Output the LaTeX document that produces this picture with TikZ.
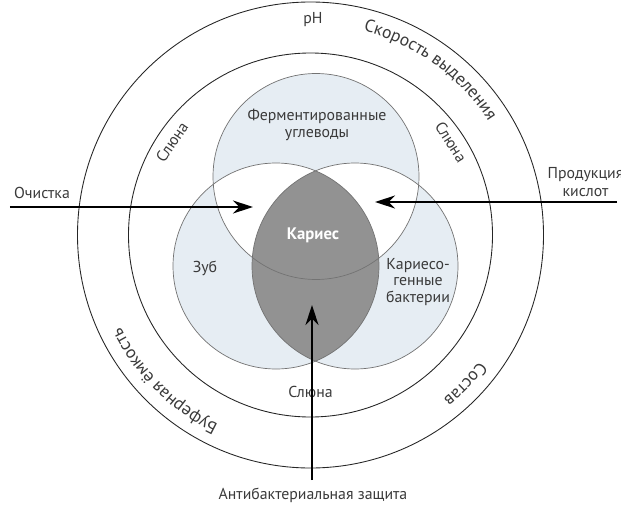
\documentclass[tikz,border=0pt]{standalone}
\usepackage{fontspec}
\setmainfont{PT Sans}
\usetikzlibrary{arrows.meta,decorations.text}
\definecolor{vennfill}{HTML}{E6EDF3}
\definecolor{cariesfill}{HTML}{929292}
\definecolor{txt}{HTML}{3A3A3A}

\begin{document}
\begin{tikzpicture}[>={Stealth[length=4mm,width=2.6mm]},
  font=\fontsize{9}{9.5}\selectfont,
  lbl/.style={text=txt, align=center},
  ringtext/.style={decorate, decoration={text along path, text align=center,
    text={#1}, text color=txt}}]
\useasboundingbox (-6.21,-5.4) rectangle (6.21,4.7);
\coordinate (mid) at (0,0);
\coordinate (carb) at (0.11,1.17);
\coordinate (tooth) at (-0.69,-0.62);
\coordinate (bact) at (0.89,-0.62);
% Venn fills
\fill [vennfill] (carb) circle (2.06);
\fill [vennfill] (tooth) circle (2.06);
\fill [vennfill] (bact) circle (2.06);
\begin{scope}
\clip (carb) circle (2.06);
\fill [white] (tooth) circle (2.06);
\fill [white] (bact) circle (2.06);
\end{scope}
\begin{scope}
\clip (tooth) circle (2.06);
\fill [cariesfill] (bact) circle (2.06);
\end{scope}
\draw [black!55, line width=0.4pt] (carb) circle (2.06);
\draw [black!55, line width=0.4pt] (tooth) circle (2.06);
\draw [black!55, line width=0.4pt] (bact) circle (2.06);
% rings
\draw [black!85, line width=0.5pt] (mid) circle (4.66);
\draw [black!85, line width=0.5pt] (mid) circle (3.64);
% ring labels
\node [lbl] (ph) at (0.05,4.3) {pH};
\path [ringtext={Скорость выделения}] (80:4.22) arc [start angle=80, end angle=28, radius=4.22];
\path [ringtext={Буферная ёмкость}] (254:4.22) arc [start angle=254, end angle=196, radius=4.22];
\path [ringtext={Состав}] (333:4.22) arc [start angle=333, end angle=299, radius=4.22];
\node [lbl, rotate=56] (salivaL) at (-2.77,1.86) {Слюна};
\node [lbl, rotate=-57] (salivaR) at (2.81,1.86) {Слюна};
\node [lbl] (salivaB) at (0,-3.14) {Слюна};
% Venn labels
\node [lbl] (carbs) at (0.13,2.2) {Ферментированные\\углеводы};
\node [text=white, font=\fontsize{9.5}{11}\selectfont\bfseries] (caries) at (0.05,0) {Кариес};
\node [lbl, font=\fontsize{9}{9.5}\selectfont] (bacteria) at (2.15,-0.94) {Кариесо-\\генные\\бактерии};
\node [lbl] (zub) at (-2.11,-0.66) {Зуб};
% arrows
\node [lbl] (clean) at (-5.37,0.84) {Очистка};
\coordinate (cleanA) at (-6.01,0.56);
\coordinate (cleanB) at (-1.15,0.56);
\draw [thick, ->] (cleanA) -- (cleanB);
\node [lbl, font=\fontsize{9}{10.5}\selectfont] (acid) at (5.5,1.06) {Продукция\\кислот};
\coordinate (acidA) at (6.13,0.66);
\coordinate (acidB) at (1.29,0.66);
\draw [thick, ->] (acidA) -- (acidB);
\node [lbl] (antibac) at (0.05,-5.2) {Антибактериальная защита};
\coordinate (antiA) at (0.03,-4.9);
\coordinate (antiB) at (0.03,-1.4);
\draw [thick, ->] (antiA) -- (antiB);
\end{tikzpicture}
\end{document}
